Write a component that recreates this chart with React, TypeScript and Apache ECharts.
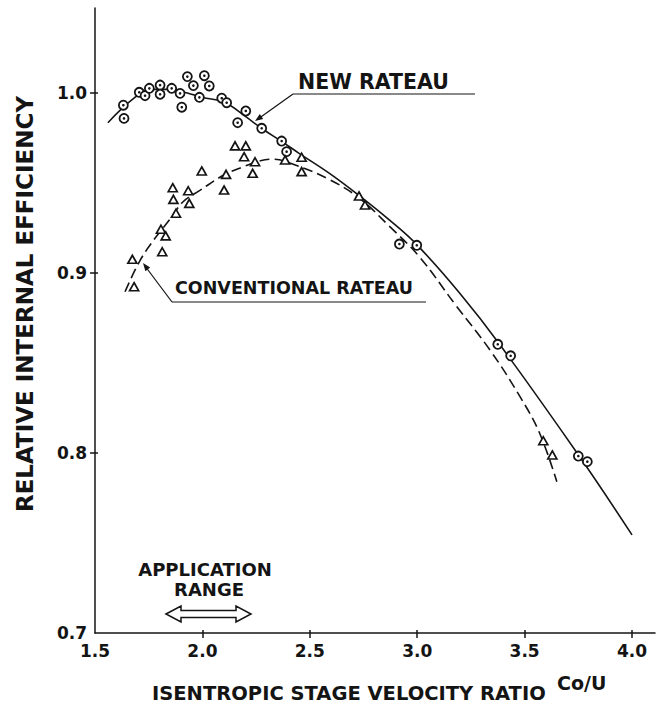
import React, { useEffect, useRef } from "react";
import * as echarts from "echarts";

// ---- data ----
const X_TICK_LABELS = [1.5, 2.0, 2.5, 3.0, 3.5, 4.0];
const X_TICK_MARKS = [2.0, 2.5, 3.0, 3.5, 4.0];
const Y_TICK_LABELS = [0.7, 0.8, 0.9, 1.0];
const Y_TICK_MARKS = [0.8, 0.9, 1.0];

// New Rateau test points (circles)
const NEW_X = [1.632, 1.635, 1.706, 1.733, 1.753, 1.803, 1.803, 1.857, 1.896, 1.904, 1.93, 1.958, 1.986, 2.009, 2.032, 2.09, 2.113, 2.164, 2.202, 2.276, 2.369, 2.392, 2.917, 2.998, 3.375, 3.435, 3.75, 3.792];
const NEW_Y = [0.9932, 0.9859, 1.0004, 0.9985, 1.0026, 1.0044, 0.9993, 1.0026, 0.9998, 0.9921, 1.0091, 1.0041, 0.9976, 1.0096, 1.0039, 0.9971, 0.9946, 0.9835, 0.99, 0.9804, 0.9733, 0.9674, 0.9161, 0.9154, 0.8604, 0.854, 0.7983, 0.7952];

// Conventional Rateau test points (triangles)
const CONV_X = [2.152, 2.202, 2.194, 2.245, 2.234, 1.997, 2.11, 2.101, 1.862, 1.865, 1.934, 1.939, 1.877, 1.807, 1.829, 1.813, 1.674, 1.682, 2.385, 2.462, 2.462, 2.729, 2.757, 3.587, 3.629];
const CONV_Y = [0.9706, 0.9706, 0.9646, 0.9618, 0.9554, 0.9567, 0.9548, 0.9461, 0.9474, 0.9409, 0.9457, 0.9387, 0.9332, 0.9243, 0.9206, 0.9118, 0.9076, 0.8924, 0.9628, 0.9643, 0.9563, 0.9428, 0.9378, 0.8068, 0.7989];

// Faired curves
const NEW_CURVE_X = [1.56, 1.68, 1.76, 1.86, 1.93, 2.0, 2.1, 2.2, 2.28, 2.37, 2.45, 2.59, 2.73, 2.87, 3.0, 3.2, 3.38, 3.75, 4.0];
const NEW_CURVE_Y = [0.9835, 0.997, 1.002, 1.002, 1.0, 0.9975, 0.995, 0.987, 0.98, 0.973, 0.9665, 0.9555, 0.943, 0.9295, 0.9155, 0.8885, 0.861, 0.799, 0.7545];
const CONV_CURVE_X = [1.64, 1.71, 1.78, 1.85, 1.91, 1.99, 2.1, 2.19, 2.27, 2.33, 2.41, 2.59, 2.73, 2.87, 3.01, 3.18, 3.34, 3.48, 3.57, 3.65];
const CONV_CURVE_Y = [0.8896, 0.907, 0.9194, 0.93, 0.9396, 0.946, 0.9544, 0.959, 0.9624, 0.9632, 0.961, 0.952, 0.9416, 0.926, 0.909, 0.882, 0.857, 0.831, 0.811, 0.784];

const zip = (xs: number[], ys: number[]) => xs.map((x, i) => [x, ys[i]]);

const INK = "#141414";
const FONT = "DejaVu Sans";

export default function App() {
  const ref = useRef<HTMLDivElement>(null);

  useEffect(() => {
    if (!ref.current) return;
    const chart = echarts.init(ref.current, null, { renderer: "svg" });

    const labelStyle = {
      fontFamily: FONT,
      fontWeight: "bold" as const,
      fontSize: 17,
      color: INK,
    };
    const common = { splitLine: { show: false } };

    const option: any = {
      animation: false,
      backgroundColor: "#ffffff",
      grid: { left: 95, top: 8, right: 6, bottom: 76, containLabel: false },
      xAxis: [
        {
          ...common,
          type: "value",
          min: 1.5,
          max: 4.107,
          axisLine: { show: true, onZero: false, lineStyle: { color: INK, width: 1.5 } },
          axisTick: { show: true, length: 5, customValues: X_TICK_MARKS, lineStyle: { color: INK, width: 1.5 } },
          axisLabel: { ...labelStyle, margin: 9, customValues: X_TICK_LABELS, formatter: (v: number) => v.toFixed(1) },
        },
        {
          ...common,
          type: "value",
          position: "bottom",
          min: 1.5,
          max: 4.107,
          axisLine: { show: false },
          axisTick: { show: true, inside: true, length: 3, customValues: X_TICK_MARKS, lineStyle: { color: INK, width: 1.5 } },
          axisLabel: { show: false },
        },
      ],
      yAxis: [
        {
          ...common,
          type: "value",
          min: 0.7,
          max: 1.04722,
          axisLine: { show: true, onZero: false, lineStyle: { color: INK, width: 1.5 } },
          axisTick: { show: true, length: 5, customValues: Y_TICK_MARKS, lineStyle: { color: INK, width: 1.5 } },
          axisLabel: { ...labelStyle, margin: 8, customValues: Y_TICK_LABELS, formatter: (v: number) => v.toFixed(1) },
        },
        {
          ...common,
          type: "value",
          position: "left",
          min: 0.7,
          max: 1.04722,
          axisLine: { show: false },
          axisTick: { show: true, inside: true, length: 3, customValues: Y_TICK_MARKS, lineStyle: { color: INK, width: 1.5 } },
          axisLabel: { show: false },
        },
      ],
      series: [
        {
          name: "New Rateau curve",
          type: "line",
          data: zip(NEW_CURVE_X, NEW_CURVE_Y),
          smooth: 0.4,
          showSymbol: false,
          lineStyle: { color: INK, width: 1.6 },
          z: 2,
        },
        {
          name: "Conventional Rateau curve",
          type: "line",
          data: zip(CONV_CURVE_X, CONV_CURVE_Y),
          smooth: 0.4,
          showSymbol: false,
          lineStyle: { color: INK, width: 1.6, type: [10, 5] },
          z: 2,
        },
        {
          name: "New Rateau",
          type: "scatter",
          data: zip(NEW_X, NEW_Y),
          symbol: "circle",
          symbolSize: 9,
          itemStyle: { color: "#ffffff", borderColor: INK, borderWidth: 1.8, opacity: 1 },
          z: 3,
        },
        {
          name: "New Rateau centre",
          type: "scatter",
          data: zip(NEW_X, NEW_Y),
          symbol: "circle",
          symbolSize: 2.6,
          itemStyle: { color: INK, opacity: 1 },
          z: 4,
        },
        {
          name: "Conventional Rateau",
          type: "scatter",
          data: zip(CONV_X, CONV_Y),
          symbol: "triangle",
          symbolSize: [9, 8],
          itemStyle: { color: "#ffffff", borderColor: INK, borderWidth: 1.7, opacity: 1 },
          z: 3,
        },
      ],
      graphic: [
        // Y axis title
        {
          type: "text",
          x: 25,
          y: 304,
          rotation: Math.PI / 2,
          style: {
            text: "RELATIVE INTERNAL EFFICIENCY",
            fill: INK,
            font: `bold 23px "${FONT}"`,
            align: "center",
            verticalAlign: "middle",
          },
        },
        // X axis title
        {
          type: "text",
          x: 152,
          y: 693,
          style: {
            text: "ISENTROPIC STAGE VELOCITY RATIO",
            fill: INK,
            font: `bold 19.5px "${FONT}"`,
            align: "left",
            verticalAlign: "middle",
          },
        },
        {
          type: "text",
          x: 557,
          y: 683,
          style: {
            text: "Co/U",
            fill: INK,
            font: `bold 19px "${FONT}"`,
            align: "left",
            verticalAlign: "middle",
          },
        },
        // NEW RATEAU label
        {
          type: "text",
          x: 298,
          y: 82,
          style: { text: "NEW RATEAU", fill: INK, font: `bold 20.5px "${FONT}"`, align: "left", verticalAlign: "middle" },
        },
        { type: "line", shape: { x1: 293, y1: 94, x2: 475, y2: 94 }, style: { stroke: INK, lineWidth: 1.2 } },
        { type: "line", shape: { x1: 293, y1: 94, x2: 258, y2: 119 }, style: { stroke: INK, lineWidth: 1.2 } },
        { type: "polygon", shape: { points: [[255, 121], [263.2, 118.9], [259.8, 114.0]] }, style: { fill: INK } },
        // CONVENTIONAL RATEAU label
        {
          type: "text",
          x: 175,
          y: 288,
          style: { text: "CONVENTIONAL RATEAU", fill: INK, font: `bold 17.5px "${FONT}"`, align: "left", verticalAlign: "middle" },
        },
        { type: "line", shape: { x1: 172, y1: 302, x2: 426, y2: 302 }, style: { stroke: INK, lineWidth: 1.2 } },
        { type: "line", shape: { x1: 172, y1: 302, x2: 145, y2: 266 }, style: { stroke: INK, lineWidth: 1.2 } },
        { type: "polygon", shape: { points: [[143, 263], [150.2, 267.6], [145.4, 271.2]] }, style: { fill: INK } },
        // Application range
        {
          type: "text",
          x: 205,
          y: 569,
          style: { text: "APPLICATION", fill: INK, font: `bold 18px "${FONT}"`, align: "center", verticalAlign: "middle" },
        },
        {
          type: "text",
          x: 209,
          y: 589,
          style: { text: "RANGE", fill: INK, font: `bold 18px "${FONT}"`, align: "center", verticalAlign: "middle" },
        },
        {
          type: "polygon",
          shape: {
            points: [
              [166, 614], [181, 606], [181, 610.5], [236, 610.5], [236, 606],
              [251, 614], [236, 622], [236, 617.5], [181, 617.5], [181, 622],
            ],
          },
          style: { fill: "#ffffff", stroke: INK, lineWidth: 1.5 },
        },
      ],
    };

    chart.setOption(option);
    return () => chart.dispose();
  }, []);

  return (
    <div
      ref={ref}
      style={{ position: "fixed", left: 0, top: 0, width: 661, height: 709, background: "#fff" }}
    />
  );
}
